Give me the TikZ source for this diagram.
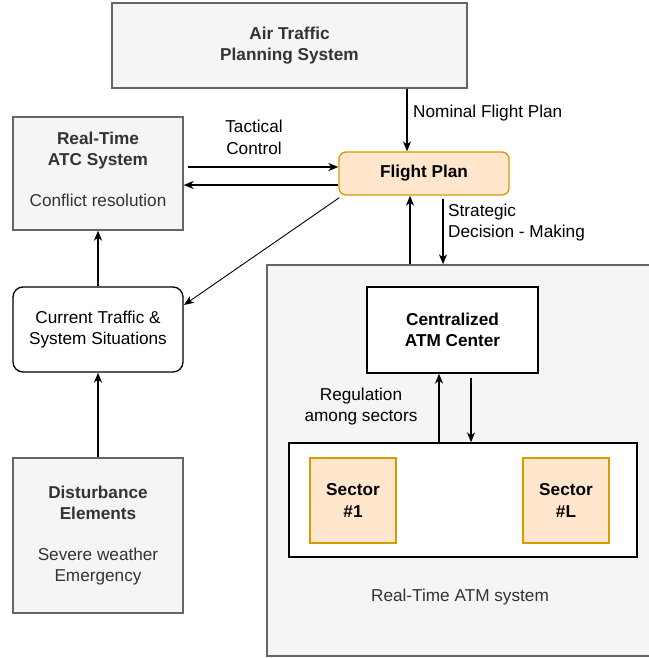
\documentclass[tikz,border=0pt]{standalone}
\usepackage{fontspec}
\setmainfont{Liberation Sans}
\usetikzlibrary{arrows.meta,positioning}
\definecolor{grayfill}{HTML}{F5F5F5}
\definecolor{graydraw}{HTML}{666666}
\definecolor{graytext}{HTML}{333333}
\definecolor{orfill}{HTML}{FFE6CC}
\definecolor{ordraw}{HTML}{D79B00}
\begin{document}
\begin{tikzpicture}[x=1pt,y=-1pt,
  every node/.style={font=\fontsize{17.2}{21.5}\selectfont, inner sep=0pt, align=center},
  graybox/.style={draw=graydraw, fill=grayfill, text=graytext, line width=1.3pt},
  whitebox/.style={draw=black, fill=white, line width=1.3pt},
  orbox/.style={draw=ordraw, fill=orfill, line width=1.3pt},
  arr/.style={draw=black, line width=1.2pt, -{Stealth[length=10pt,width=8pt,inset=3pt]}},
  lbl/.style={text=black}
]
\useasboundingbox (0,0) rectangle (648,658);

% big real-time ATM system box
\node[graybox, minimum width=383pt, minimum height=391pt] (atm) at (458.5,460.5) {};
\node[lbl, text=graytext] (atmlbl) at (460,597) {Real-Time ATM system};

\node[graybox, minimum width=355pt, minimum height=85pt] (atps) at (289.5,45.5)
  {\textbf{Air Traffic}\\\textbf{Planning System}};
\node[orbox, rounded corners=7pt, minimum width=170pt, minimum height=43pt] (fp) at (424,173.5)
  {\textbf{Flight Plan}};
\node[graybox, minimum width=170pt, minimum height=113pt] (atc) at (98,173.5) {};
\node[text=graytext] (atctxt) at (98,169.5)
  {\textbf{Real-Time}\\\textbf{ATC System}\\[19.5pt]Conflict resolution};
\node[whitebox, rounded corners=10pt, minimum width=170pt, minimum height=85pt] (cur) at (98,329.5)
  {Current Traffic \&\\System Situations};
\node[graybox, minimum width=170pt, minimum height=155pt] (dist) at (98,535.5)
  {\textbf{Disturbance}\\\textbf{Elements}\\[19pt]Severe weather\\Emergency};
\node[whitebox, minimum width=171pt, minimum height=86pt] (cen) at (452.5,330)
  {\textbf{Centralized}\\\textbf{ATM Center}};
\node[whitebox, minimum width=348pt, minimum height=114pt] (inner) at (463,500) {};
\node[orbox, minimum width=86pt, minimum height=85pt] (s1) at (353,500.5)
  {\textbf{Sector}\\\textbf{\#1}};
\node[orbox, minimum width=86pt, minimum height=85pt] (sL) at (566,500.5)
  {\textbf{Sector}\\\textbf{\#L}};

% helper coordinates
\coordinate (x407) at (407,0);
\coordinate (x410) at (410,0);
\coordinate (x443) at (443,0);
\coordinate (x439) at (439,0);
\coordinate (x471) at (471,0);
\coordinate (y167) at (0,167);
\coordinate (y185) at (0,185);
\coordinate (curin) at (184,305);

% connectors
\draw[arr] (atps.south -| x407) -- (fp.north -| x407);
\draw[arr, shorten <=4pt] (atc.east |- y167) -- (fp.west |- y167);
\draw[arr] (fp.west |- y185) -- (atc.east |- y185);
\draw[arr, line width=0.9pt] (fp.south west) ++(1,2) -- (curin);
\draw[arr] (cur.north) -- (atc.south);
\draw[arr] (dist.north) -- (cur.south);
\draw[arr] (atm.north -| x410) -- (fp.south -| x410);
\draw[arr, shorten <=3pt] (fp.south -| x443) -- (atm.north -| x443);
\draw[arr] (inner.north -| x439) -- (cen.south -| x439);
\draw[arr, shorten <=4pt] (cen.south -| x471) -- (inner.north -| x471);

% labels
\node[lbl, anchor=west] (nfp) at (413,113) {Nominal Flight Plan};
\node[lbl] (tc) at (254,137.5) {Tactical\\Control};
\node[lbl, align=left, anchor=west] (sdm) at (448,222.5) {Strategic\\Decision - Making};
\node[lbl] (reg) at (361,406.5) {Regulation\\among sectors};
\end{tikzpicture}
\end{document}
